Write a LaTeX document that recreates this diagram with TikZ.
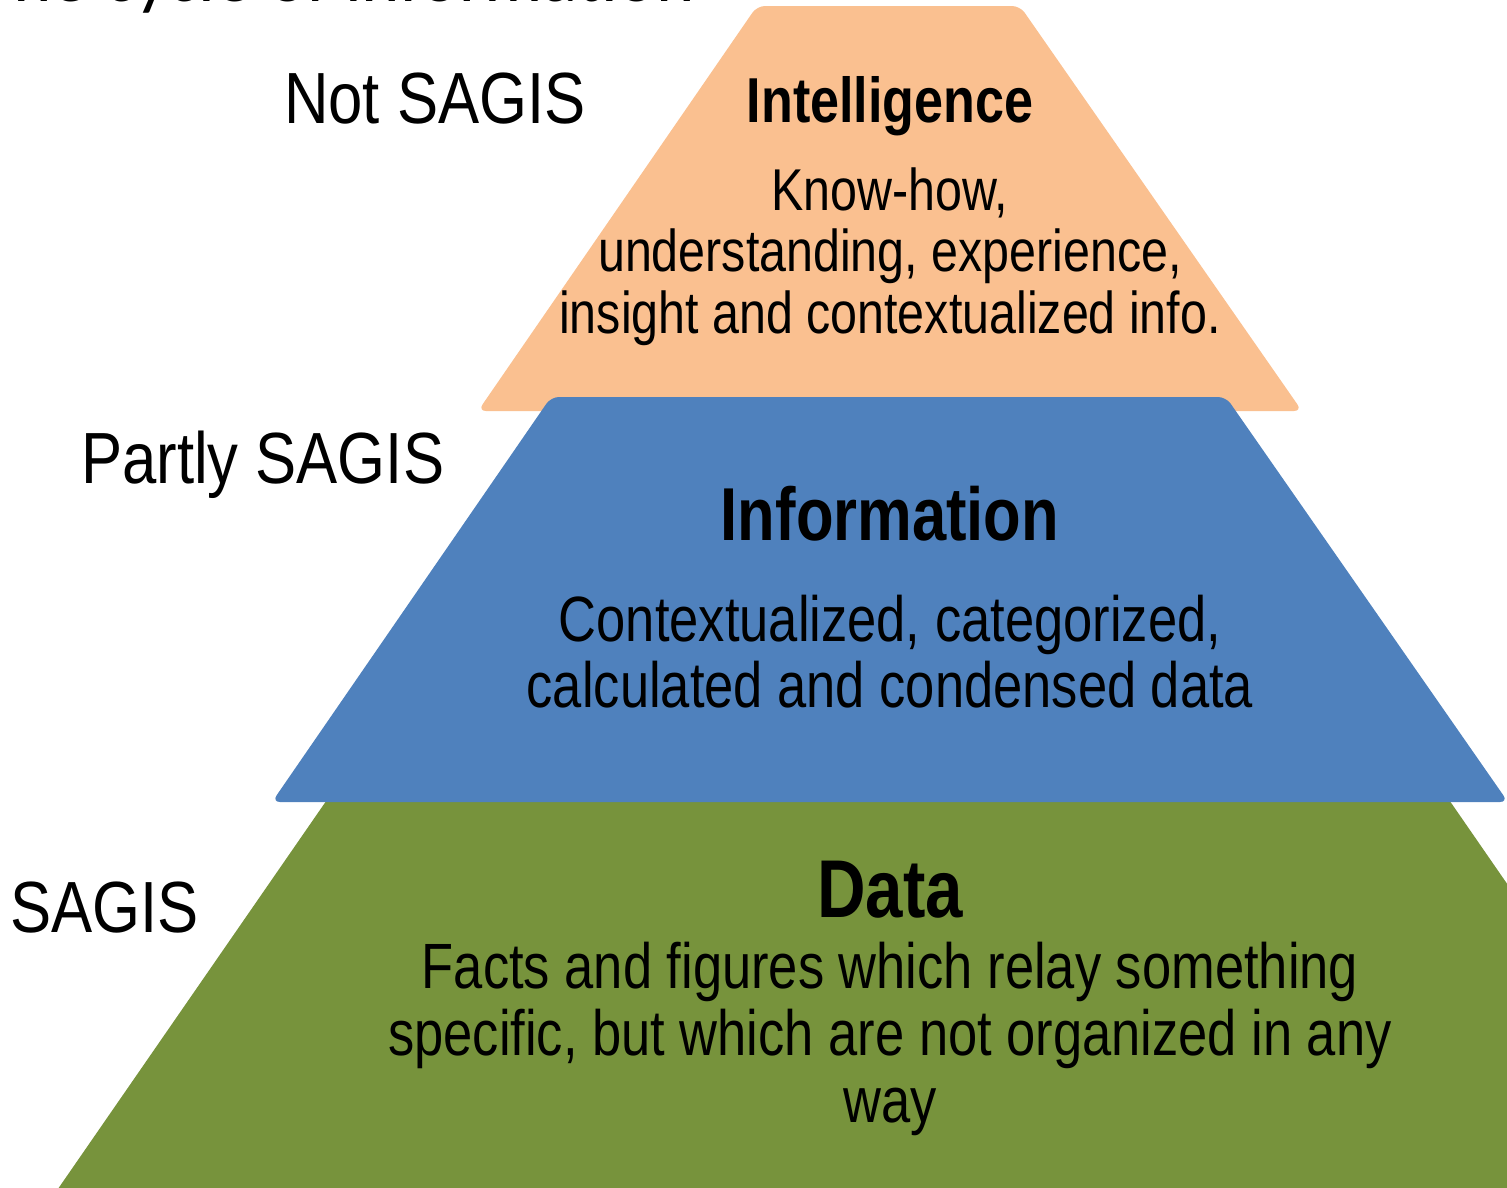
\documentclass[tikz,border=0pt]{standalone}
\usepackage{fontspec}
\setmainfont{Liberation Sans}[FakeStretch=0.82]
\newfontfamily\labelfont{Liberation Sans}[FakeStretch=0.85]
\newfontfamily\titlefont{Carlito}
\definecolor{tierorange}{HTML}{FAC090}
\definecolor{tierblue}{HTML}{4F81BD}
\definecolor{tiergreen}{HTML}{77933C}
\newcommand\stacklines[1]{\vtop{\halign{\hfil##\hfil\cr#1\crcr}}}
\begin{document}
\begin{tikzpicture}[x=1pt,y=-1pt,
  tier/.style={rounded corners=8pt},
  sidelabel/.style={anchor=base west, inner sep=0pt, font=\labelfont\fontsize{72.5}{80}\selectfont},
  heading/.style={anchor=base, inner sep=0pt},
  bodytext/.style={anchor=base, inner sep=0pt}]
\useasboundingbox (0,0) rectangle (1507,1187);
\clip (0,0) rectangle (1507,1187);
% title (cut off at the top)
\node[anchor=base east, inner sep=0pt, font=\titlefont\fontsize{73}{80}\selectfont] (title) at (695,1) {The cycle of information};
% tiers
\fill[tier, tierorange] (757,6) -- (1020,6) -- (1302,411) -- (478,411) -- cycle;
\fill[tier, tiergreen] (331,794) -- (1445,794) -- (1725,1199) -- (51,1199) -- cycle;
\fill[tier, tierblue] (551,397) -- (1226,397) -- (1508,802) -- (272,802) -- cycle;
% side labels
\node[sidelabel] (notsagis) at (284,123) {Not SAGIS};
\node[sidelabel] (partly) at (81,483) {Partly SAGIS};
\node[sidelabel] (sagis) at (10,932) {SAGIS};
% intelligence
\node[heading, font=\bfseries\fontsize{63.5}{70}\selectfont] (intel) at (890,122) {Intelligence};
\node[bodytext, font=\fontsize{59}{61.5}\selectfont] (intelbody) at (890,210)
  {\stacklines{Know-how,\cr understanding, experience,\cr insight and contextualized info.}};
% information
\node[heading, font=\bfseries\fontsize{75}{80}\selectfont] (info) at (890,540) {Information};
\node[bodytext, font=\fontsize{64}{66}\selectfont] (infobody) at (890,641)
  {\stacklines{Contextualized, categorized,\cr calculated and condensed data}};
% data
\node[heading, font=\bfseries\fontsize{82}{90}\selectfont] (data) at (890,917) {Data};
\node[bodytext, font=\fontsize{64}{67}\selectfont] (databody) at (890,988)
  {\stacklines{Facts and figures which relay something\cr specific, but which are not organized in any\cr way}};
\end{tikzpicture}
\end{document}
